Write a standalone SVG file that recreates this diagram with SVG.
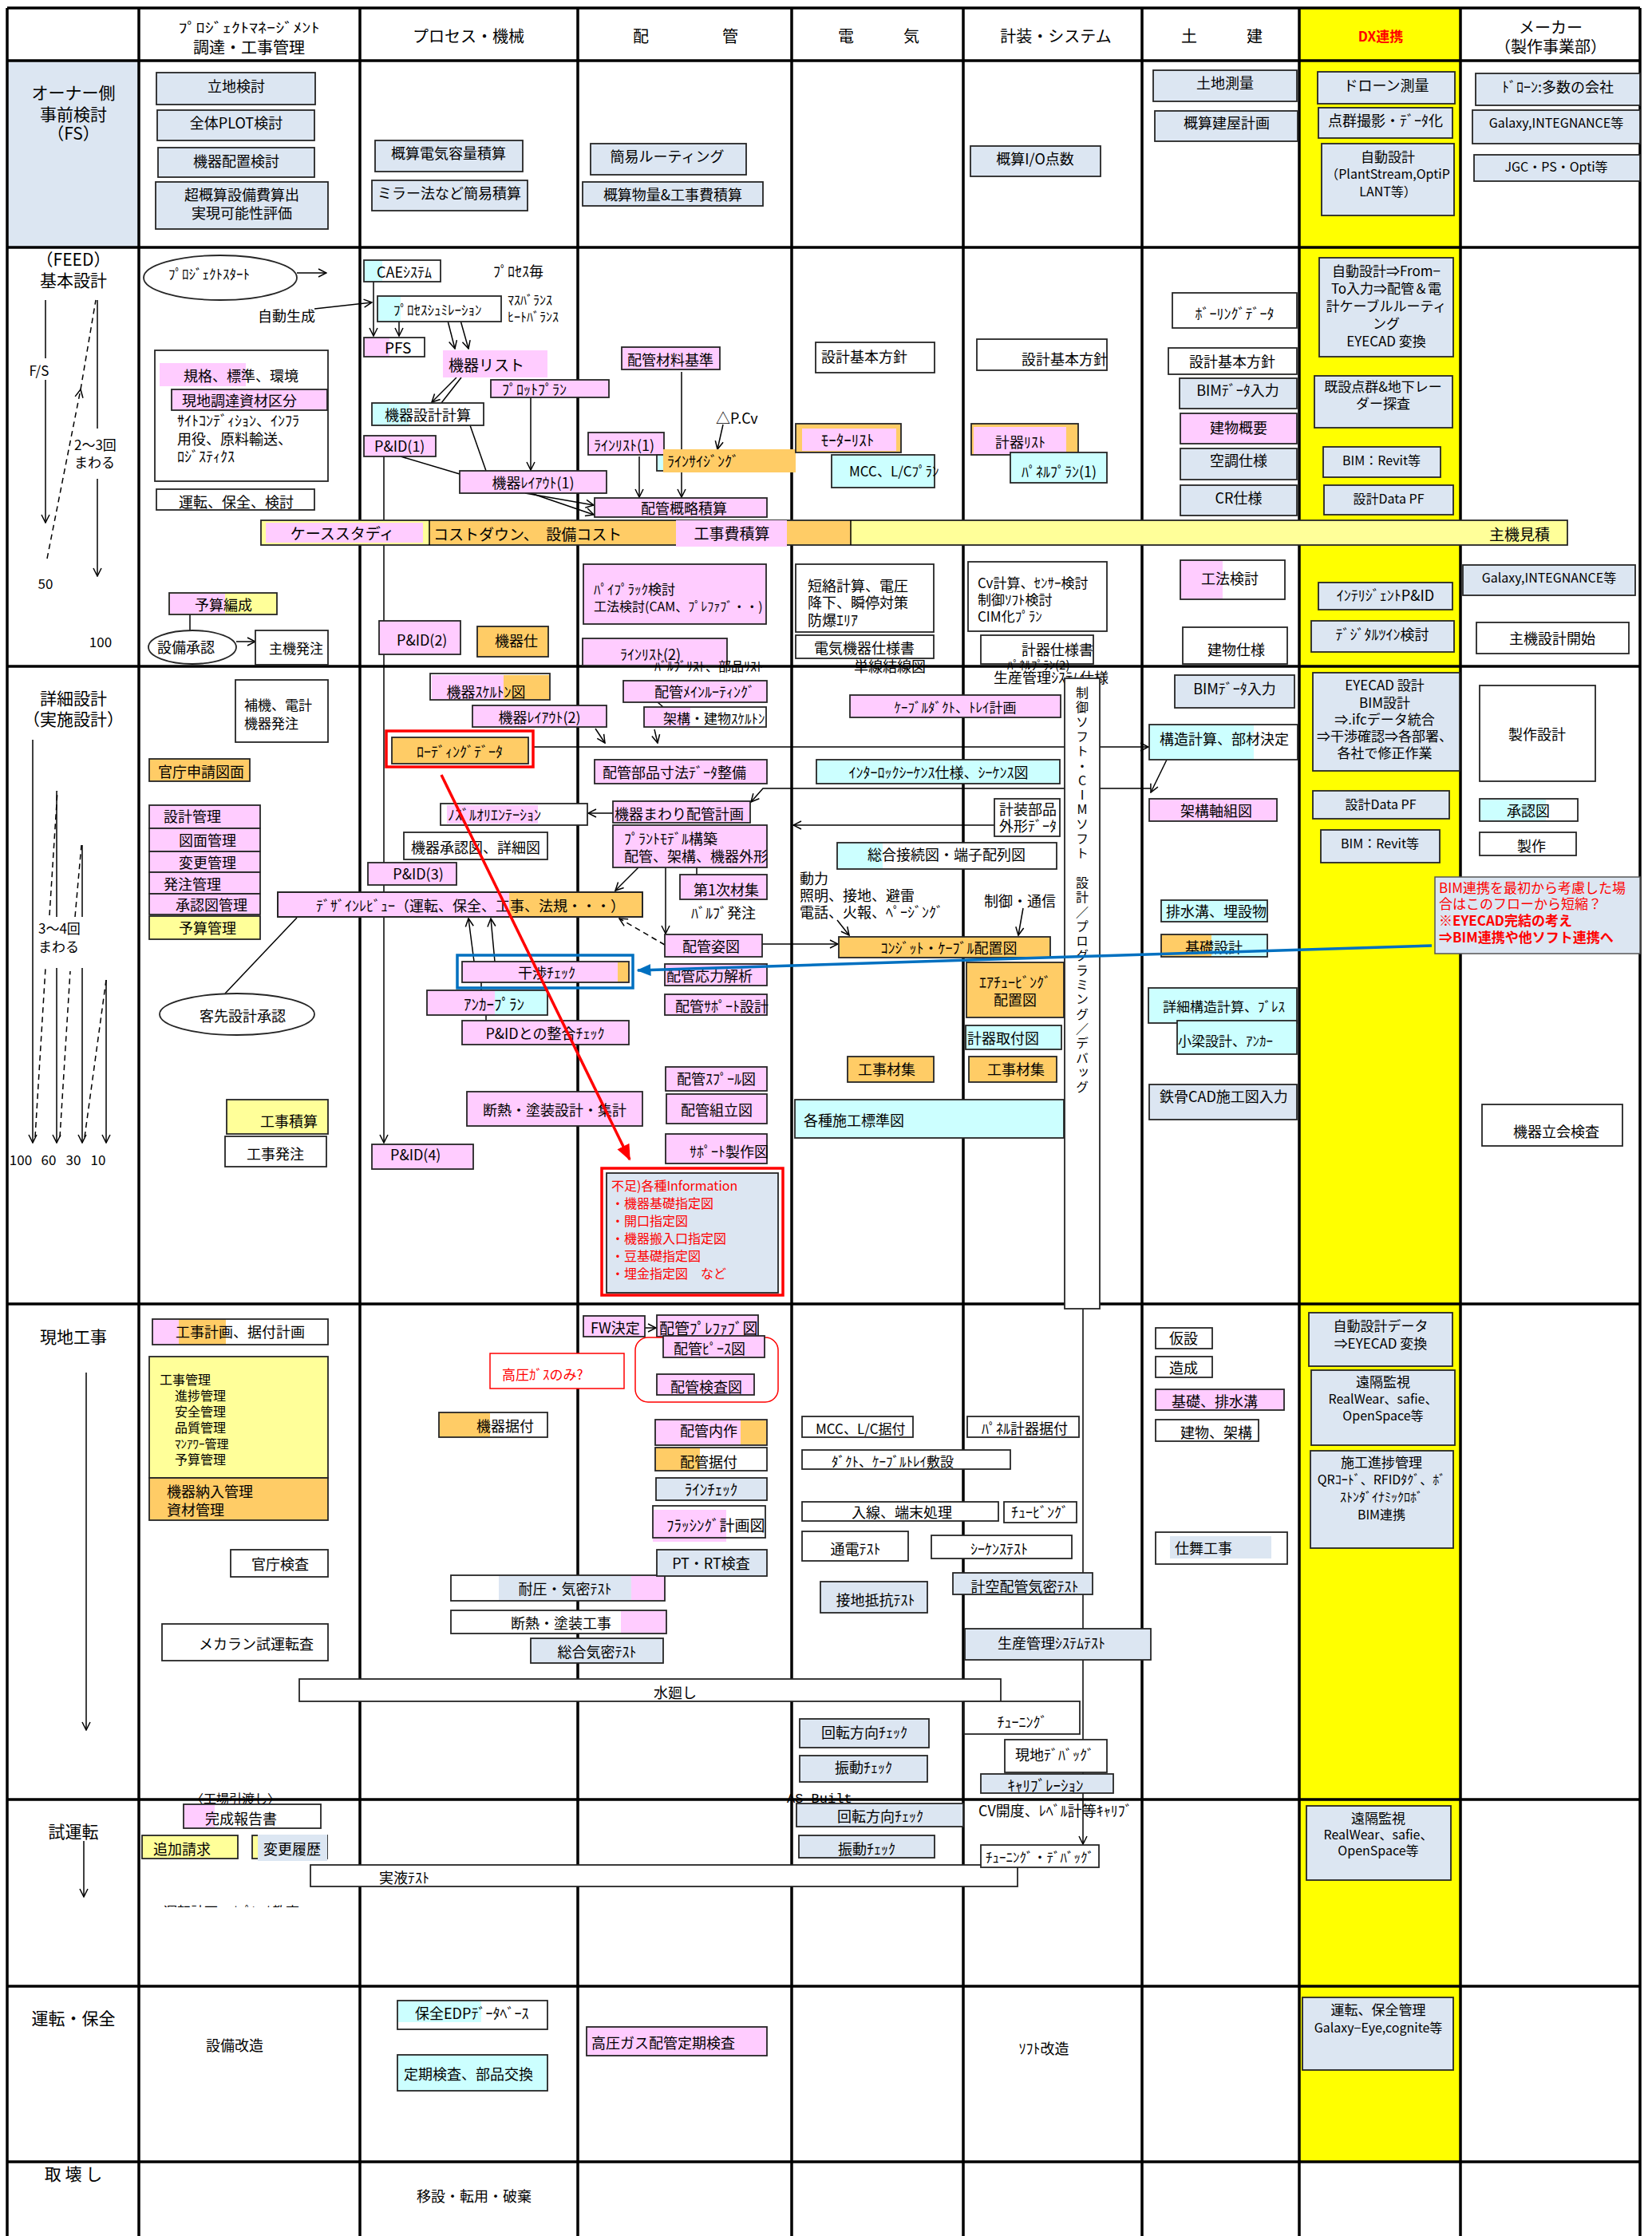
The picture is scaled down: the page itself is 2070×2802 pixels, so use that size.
<svg xmlns="http://www.w3.org/2000/svg" width="2070" height="2802" viewBox="0 0 2070 2802">
<defs>
<style>
text{font-family:"Noto Sans CJK JP","Noto Sans",sans-serif;font-size:17px;fill:#000;dominant-baseline:central}
.c{text-anchor:middle}
.b{stroke:#262626;stroke-width:1.8}
.pk{fill:#ffccff}.or{fill:#ffcc66}.lb{fill:#dce6f2}.cy{fill:#ccffff}.ly{fill:#ffff99}.wh{fill:#fff}.nf{fill:none}
.g{stroke:#000;stroke-width:3.5;fill:none}
.l{stroke:#000;stroke-width:1.5;fill:none}
.d{stroke-dasharray:7 5}
.h{font-size:20px}
.lab{font-size:21px}
.r{fill:#ff0000}
.s15{font-size:15px}.s16{font-size:16px}.s18{font-size:18px}.s19{font-size:19px}
</style>
<marker id="a" viewBox="0 0 12 12" refX="11" refY="6" markerWidth="12" markerHeight="12" markerUnits="userSpaceOnUse" orient="auto"><path d="M1,1 L11,6 L1,11" fill="none" stroke="#000" stroke-width="1.5"/></marker>
<marker id="ar" viewBox="0 0 12 12" refX="11" refY="6" markerWidth="20" markerHeight="20" markerUnits="userSpaceOnUse" orient="auto"><path d="M0,1 L12,6 L0,11 z" fill="#ff0000"/></marker>
<marker id="ab" viewBox="0 0 12 12" refX="11" refY="6" markerWidth="18" markerHeight="18" markerUnits="userSpaceOnUse" orient="auto"><path d="M0,1 L12,6 L0,11 z" fill="#0070c0"/></marker>
<clipPath id="clipT"><rect x="190" y="2378" width="220" height="12"/></clipPath>
</defs>

<g id="grid">
<rect x="0" y="0" width="2070" height="2802" fill="#fff"/>
<rect x="9" y="76" width="165" height="234" fill="#dce6f2"/>
<rect x="1628" y="10" width="202" height="2699" fill="#ffff00"/>
<path class="g" d="M9,10H2055M9,76H2055M9,310H2055M9,835H2055M9,1634H2055M9,2255H2055M9,2489H2055M9,2709H2055"/>
<path class="g" d="M9,10V2802M174,10V2802M451,10V2802M724,10V2802M992,10V2802M1207,10V2802M1431,10V2802M1628,10V2802M1830,10V2802M2055,10V2802"/>
</g>

<g id="headers">
<text x="312" y="33" class="c" font-size="20" textLength="177" lengthAdjust="spacingAndGlyphs">ﾌﾟﾛｼﾞｪｸﾄﾏﾈｰｼﾞﾒﾝﾄ</text>
<text x="312" y="58" class="c h">調達・工事管理</text>
<text x="587" y="44" class="c h">プロセス・機械</text>
<text x="803" y="44" class="c h">配</text><text x="915" y="44" class="c h">管</text>
<text x="1060" y="44" class="c h">電</text><text x="1142" y="44" class="c h">気</text>
<text x="1323" y="44" class="c h">計装・システム</text>
<text x="1490" y="44" class="c h">土</text><text x="1572" y="44" class="c h">建</text>
<text x="1730" y="44" class="c" font-size="24" font-weight="bold" style="fill:#ff0000">DX連携</text>
<text x="1943" y="33" class="c h">メーカー</text>
<text x="1943" y="57" class="c h">（製作事業部）</text>
<text x="92" y="115" class="c lab">オーナー側</text>
<text x="92" y="142" class="c lab">事前検討</text>
<text x="92" y="166" class="c lab">（FS）</text>
<text x="92" y="324" class="c lab">（FEED）</text>
<text x="92" y="350" class="c lab">基本設計</text>
<text x="92" y="874" class="c lab">詳細設計</text>
<text x="92" y="900" class="c lab">（実施設計）</text>
<text x="92" y="1674" class="c lab">現地工事</text>
<text x="92" y="2294" class="c lab">試運転</text>
<text x="92" y="2528" class="c lab">運転・保全</text>
<text x="92" y="2723" class="c lab">取 壊 し</text>
<text x="49" y="463" class="c">F/S</text>
<text x="93" y="556">2～3回</text>
<text x="93" y="578">まわる</text>
<text x="57" y="730" class="c">50</text>
<text x="126" y="803" class="c">100</text>
<text x="48" y="1162">3～4回</text>
<text x="48" y="1185">まわる</text>
<text x="26" y="1452" class="c">100</text>
<text x="61" y="1452" class="c">60</text>
<text x="92" y="1452" class="c">30</text>
<text x="123" y="1452" class="c">10</text>
</g>

<g id="connectors">
<path class="l" d="M57,376V449M57,476V655" marker-end="url(#a)"/>
<path class="l d" d="M59,700L101,488" marker-end="url(#a)"/>
<path class="l d" d="M101,488L120,376"/>
<path class="l" d="M122,376V537"/>
<path class="l" d="M122,600V722" marker-end="url(#a)"/>
<path class="l" d="M372,342H409" marker-end="url(#a)"/>
<path class="l" d="M394,387L466,379" marker-end="url(#a)"/>
<path class="l" d="M468,353V421" marker-end="url(#a)"/>
<path class="l" d="M500,403V421" marker-end="url(#a)"/>
<path class="l" d="M560,398L570,437" marker-end="url(#a)"/>
<path class="l" d="M576,398L587,437" marker-end="url(#a)"/>
<path class="l" d="M572,473L541,504" marker-end="url(#a)"/>
<path class="l" d="M578,473L553,505"/>
<path class="l" d="M665,498V589" marker-end="url(#a)"/>
<path class="l" d="M589,533L609,590"/>
<path class="l" d="M502,572L576,594"/>
<path class="l" d="M658,618L744,633" marker-end="url(#a)"/>
<path class="l" d="M665,618L744,645" marker-end="url(#a)"/>
<path class="l" d="M481,572V1432" marker-end="url(#a)"/>
<path class="l" d="M854,466V623" marker-end="url(#a)"/>
<path class="l" d="M801,572V623" marker-end="url(#a)"/>
<path class="l" d="M906,532L899,563" marker-end="url(#a)"/>
<path class="l" d="M238,770V790"/>
<path class="l" d="M296,804H320" marker-end="url(#a)"/>
<path class="l" d="M746,913L758,931" marker-end="url(#a)"/>
<path class="l" d="M824,880L831,886"/>
<path class="l" d="M820,914L824,931" marker-end="url(#a)"/>
<path class="l" d="M668,936H1439" marker-end="url(#a)"/>
<path class="l" d="M1462,952L1442,993" marker-end="url(#a)"/>
<path class="l" d="M1442,988H956L941,1005" marker-end="url(#a)"/>
<path class="l" d="M768,1019H737" marker-end="url(#a)"/>
<path class="l" d="M1246,1034H994" marker-end="url(#a)"/>
<path class="l" d="M800,1087L771,1116" marker-end="url(#a)"/>
<path class="l" d="M834,1087V1170" marker-end="url(#a)"/>
<path class="l" d="M873,1087V1096"/>
<path class="l d" d="M833,1184L776,1151" marker-end="url(#a)"/>
<path class="l" d="M1049,1153L1064,1172" marker-end="url(#a)"/>
<path class="l" d="M1282,1138L1276,1172" marker-end="url(#a)"/>
<path class="l" d="M955,1183H1050" marker-end="url(#a)"/>
<path class="l" d="M594,1205L587,1151" marker-end="url(#a)"/>
<path class="l" d="M620,1205L615,1151" marker-end="url(#a)"/>
<path class="l" d="M603,1231V1241M609,1272V1279"/>
<path class="l" d="M372,1150L282,1245"/>
<path class="l" d="M41,927V1432" marker-end="url(#a)"/>
<path class="l d" d="M44,1425L57,1213M62,1147L72,991M75,1425L88,1217M94,1149L102,1059M106,1425L133,1228"/>
<path class="l" d="M71,991V1149M103,1059V1149"/>
<path class="l" d="M71,1213V1432" marker-end="url(#a)"/>
<path class="l" d="M103,1213V1432" marker-end="url(#a)"/>
<path class="l" d="M133,1228V1432" marker-end="url(#a)"/>
<path class="l" d="M808,1664H822" marker-end="url(#a)"/>
<path class="l" d="M108,1720V2168" marker-end="url(#a)"/>
<path class="l" d="M1357,1640V2311" marker-end="url(#a)"/>
<path class="l" d="M105,2307V2377" marker-end="url(#a)"/>
</g>

<g id="fs-nodes">
<g id="fs1"><rect x="196" y="91" width="199" height="40" class="lb b"/><text x="296" y="107" class="c s18">立地検討</text></g>
<g id="fs2"><rect x="197" y="138" width="197" height="38" class="lb b"/><text x="296" y="153" class="c s18">全体PLOT検討</text></g>
<g id="fs3"><rect x="198" y="185" width="196" height="37" class="lb b"/><text x="296" y="201" class="c s18">機器配置検討</text></g>
<g id="fs4"><rect x="195" y="228" width="216" height="59" class="lb b"/><text x="303" y="243" class="c s18">超概算設備費算出</text><text x="303" y="266" class="c s18">実現可能性評価</text></g>
<g id="fs5"><rect x="470" y="176" width="185" height="39" class="lb b"/><text x="562" y="191" class="c s18">概算電気容量積算</text></g>
<g id="fs6"><rect x="466" y="226" width="195" height="38" class="lb b"/><text x="563" y="241" class="c s18">ミラー法など簡易積算</text></g>
<g id="fs7"><rect x="740" y="180" width="195" height="39" class="lb b"/><text x="836" y="195" class="c s18">簡易ルーティング</text></g>
<g id="fs8"><rect x="730" y="228" width="226" height="30" class="lb b"/><text x="843" y="243" class="c s18">概算物量&amp;工事費積算</text></g>
<g id="fs9"><rect x="1216" y="183" width="163" height="38" class="lb b"/><text x="1297" y="198" class="c s18">概算I/O点数</text></g>
<g id="fs10"><rect x="1445" y="88" width="180" height="39" class="lb b"/><text x="1535" y="103" class="c s18">土地測量</text></g>
<g id="fs11"><rect x="1447" y="139" width="179" height="38" class="lb b"/><text x="1537" y="153" class="c s18">概算建屋計画</text></g>
<g id="fs12"><rect x="1651" y="90" width="172" height="40" class="lb b"/><text x="1737" y="106" class="c s18">ドローン測量</text></g>
<g id="fs13"><rect x="1652" y="135" width="168" height="38" class="lb b"/><text x="1736" y="150" class="c s18">点群撮影・ﾃﾞｰﾀ化</text></g>
<g id="fs14"><rect x="1656" y="180" width="166" height="90" class="lb b"/><text x="1739" y="195" class="c">自動設計</text><text x="1739" y="217" class="c s16">（PlantStream,OptiP</text><text x="1739" y="239" class="c s16">LANT等）</text></g>
<g id="fs15"><rect x="1849" y="92" width="206" height="40" class="lb b"/><text x="1952" y="108" class="c s18">ﾄﾞﾛｰﾝ:多数の会社</text></g>
<g id="fs16"><rect x="1845" y="138" width="210" height="42" class="lb b"/><text x="1950" y="153" class="c s16">Galaxy,INTEGNANCE等</text></g>
<g id="fs17"><rect x="1847" y="194" width="208" height="33" class="lb b"/><text x="1950" y="208" class="c s16">JGC・PS・Opti等</text></g>
</g>

<g id="feed-nodes">
<g id="f-start"><ellipse cx="276" cy="348" rx="96" ry="28" class="wh b"/><text x="262" y="342" class="c">ﾌﾟﾛｼﾞｪｸﾄｽﾀｰﾄ</text></g>
<g id="f-auto"><text x="323" y="395" class="s18">自動生成</text></g>
<g id="f-kikaku"><rect x="194" y="439" width="217" height="164" class="wh b"/><rect x="200" y="455" width="108" height="29" class="pk"/><text x="230" y="470" class="s18">規格、標準、環境</text><rect x="215" y="488" width="195" height="26" class="pk b"/><text x="228" y="501" class="s18">現地調達資材区分</text><text x="222" y="526" class="s18">ｻｲﾄｺﾝﾃﾞｨｼｮﾝ、ｲﾝﾌﾗ</text><text x="222" y="549" class="s18">用役、原料輸送、</text><text x="222" y="571" class="s18">ﾛｼﾞｽﾃｨｸｽ</text></g>
<g id="f-unten"><rect x="196" y="613" width="198" height="26" class="wh b"/><text x="296" y="628" class="c s18">運転、保全、検討</text></g>
<g id="f-yosan"><rect x="212" y="743" width="135" height="27" class="ly b"/><rect x="213" y="744" width="69" height="25" class="pk"/><text x="280" y="757" class="c s18">予算編成</text></g>
<g id="f-shonin"><ellipse cx="241" cy="811" rx="55" ry="21" class="wh b"/><text x="197" y="810" class="s18">設備承認</text></g>
<g id="f-hatchu"><rect x="320" y="790" width="91" height="43" class="wh b"/><text x="337" y="811">主機発注</text></g>
<g id="f-cae"><rect x="456" y="326" width="96" height="27" class="wh"/><rect x="456" y="326" width="23" height="27" class="cy"/><rect x="456" y="326" width="96" height="27" class="nf b"/><text x="472" y="340" class="s18">CAEｼｽﾃﾑ</text></g>
<g id="f-pmai"><text x="618" y="339" class="s18">ﾌﾟﾛｾｽ毎</text></g>
<g id="f-sim"><rect x="473" y="371" width="155" height="32" class="wh"/><rect x="473" y="371" width="29" height="32" class="cy"/><rect x="473" y="371" width="155" height="32" class="nf b"/><text x="493" y="387">ﾌﾟﾛｾｽｼｭﾐﾚｰｼｮﾝ</text></g>
<g id="f-mass"><text x="636" y="375" class="s16">ﾏｽﾊﾞﾗﾝｽ</text><text x="636" y="396" class="s16">ﾋｰﾄﾊﾞﾗﾝｽ</text></g>
<g id="f-pfs"><rect x="456" y="423" width="76" height="24" class="wh"/><rect x="456" y="423" width="32" height="24" class="pk"/><rect x="456" y="423" width="76" height="24" class="nf b"/><text x="482" y="434" class="s19">PFS</text></g>
<g id="f-list"><rect x="555" y="439" width="131" height="34" class="pk"/><text x="562" y="456" class="s19">機器リスト</text></g>
<g id="f-plot"><rect x="615" y="476" width="148" height="22" class="pk b"/><text x="629" y="487" class="s18">ﾌﾟﾛｯﾄﾌﾟﾗﾝ</text></g>
<g id="f-sekkei"><rect x="466" y="505" width="140" height="28" class="wh"/><rect x="466" y="505" width="47" height="28" class="cy"/><rect x="466" y="505" width="140" height="28" class="nf b"/><text x="482" y="519" class="s18">機器設計計算</text></g>
<g id="f-pid1"><rect x="456" y="546" width="90" height="26" class="pk b"/><text x="469" y="558" class="s18">P&amp;ID(1)</text></g>
<g id="f-layout1"><rect x="576" y="590" width="184" height="28" class="pk b"/><text x="668" y="604" class="c s18">機器ﾚｲｱｳﾄ(1)</text></g>
<g id="f-pid2"><rect x="475" y="778" width="102" height="42" class="pk b"/><text x="497" y="801" class="s18">P&amp;ID(2)</text></g>
<g id="f-kikishi"><rect x="598" y="785" width="89" height="38" class="or b"/><text x="620" y="802" class="s18">機器仕</text></g>
<g id="f-zairyo"><rect x="779" y="435" width="123" height="28" class="pk b"/><text x="840" y="450" class="c s18">配管材料基準</text></g>
<g id="f-line1"><rect x="737" y="542" width="95" height="28" class="pk b"/><text x="744" y="557" class="s18">ﾗｲﾝﾘｽﾄ(1)</text></g>
<g id="f-dpcv"><text x="897" y="523" class="s18">△P.Cv</text></g>
<g id="f-sizing"><rect x="823" y="570" width="30" height="20" class="cy b"/><rect x="831" y="563" width="166" height="29" class="or"/><text x="836" y="577" class="s18">ﾗｲﾝｻｲｼﾞﾝｸﾞ</text></g>
<g id="f-gairyaku"><rect x="745" y="624" width="216" height="24" class="pk b"/><text x="857" y="636" class="c s18">配管概略積算</text></g>
<g id="f-rack"><rect x="731" y="707" width="229" height="75" class="pk b"/><text x="744" y="737">ﾊﾟｲﾌﾟﾗｯｸ検討</text><text x="744" y="759" class="s16">工法検討(CAM、ﾌﾟﾚﾌｧﾌﾞ・・)</text></g>
<g id="f-line2"><rect x="730" y="800" width="181" height="34" class="pk b"/><text x="777" y="819" class="s18">ﾗｲﾝﾘｽﾄ(2)</text></g>
<g id="f-e-kihon"><rect x="1022" y="429" width="149" height="38" class="wh b"/><text x="1029" y="446" class="s18">設計基本方針</text></g>
<g id="f-motor"><rect x="997" y="531" width="132" height="36" class="or b"/><rect x="1005" y="537" width="118" height="28" class="pk"/><text x="1062" y="550" class="c s19">ﾓｰﾀｰﾘｽﾄ</text></g>
<g id="f-mcc"><rect x="1042" y="570" width="129" height="41" class="cy b"/><text x="1064" y="589">MCC、L/Cﾌﾟﾗﾝ</text></g>
<g id="f-tanraku"><rect x="997" y="707" width="173" height="85" class="wh b"/><text x="1012" y="733" class="s18">短絡計算、電圧</text><text x="1012" y="754" class="s18">降下、瞬停対策</text><text x="1012" y="776" class="s18">防爆ｴﾘｱ</text></g>
<g id="f-denki"><rect x="997" y="796" width="173" height="29" class="wh b"/><text x="1083" y="811" class="c s18">電気機器仕様書</text></g>
<g id="f-i-kihon"><rect x="1224" y="425" width="163" height="39" class="wh b"/><text x="1280" y="449" class="s18">設計基本方針</text></g>
<g id="f-keiki"><rect x="1217" y="531" width="134" height="39" class="or b"/><rect x="1220" y="535" width="116" height="34" class="pk"/><text x="1247" y="553" class="s18">計器ﾘｽﾄ</text></g>
<g id="f-panel1"><rect x="1266" y="567" width="121" height="38" class="cy b"/><text x="1280" y="590" class="s18">ﾊﾟﾈﾙﾌﾟﾗﾝ(1)</text></g>
<g id="f-cv"><rect x="1213" y="704" width="174" height="87" class="wh b"/><text x="1225" y="729">Cv計算、ｾﾝｻｰ検討</text><text x="1225" y="750">制御ｿﾌﾄ検討</text><text x="1225" y="771">CIM化ﾌﾟﾗﾝ</text></g>
<g id="f-keikishi"><rect x="1229" y="796" width="141" height="36" class="wh b"/><text x="1280" y="813" class="s18">計器仕様書</text></g>
<g id="f-boring"><rect x="1469" y="367" width="156" height="44" class="wh b"/><text x="1547" y="392" class="c s18">ﾎﾞｰﾘﾝｸﾞﾃﾞｰﾀ</text></g>
<g id="f-c-kihon"><rect x="1464" y="436" width="161" height="33" class="wh b"/><text x="1544" y="452" class="c s18">設計基本方針</text></g>
<g id="f-bim"><rect x="1478" y="474" width="147" height="38" class="lb b"/><text x="1551" y="488" class="c s18">BIMﾃﾞｰﾀ入力</text></g>
<g id="f-tatemono"><rect x="1479" y="518" width="146" height="38" class="pk b"/><text x="1552" y="535" class="c s18">建物概要</text></g>
<g id="f-kucho"><rect x="1479" y="562" width="146" height="39" class="lb b"/><text x="1552" y="576" class="c s18">空調仕様</text></g>
<g id="f-cr"><rect x="1479" y="608" width="146" height="38" class="lb b"/><text x="1552" y="623" class="c s18">CR仕様</text></g>
<g id="f-kohou"><rect x="1479" y="702" width="131" height="49" class="wh"/><rect x="1479" y="702" width="53" height="49" class="pk"/><rect x="1479" y="702" width="131" height="49" class="nf b"/><text x="1541" y="724" class="c s18">工法検討</text></g>
<g id="f-tatemonoshi"><rect x="1482" y="786" width="131" height="46" class="wh b"/><text x="1549" y="813" class="c s18">建物仕様</text></g>
<g id="f-dx1"><rect x="1653" y="323" width="168" height="124" class="lb b"/><text x="1737" y="338" class="c">自動設計⇒From−</text><text x="1737" y="360" class="c">To入力⇒配管＆電</text><text x="1737" y="382" class="c">計ケーブルルーティ</text><text x="1737" y="404" class="c">ング</text><text x="1737" y="426" class="c">EYECAD 変換</text></g>
<g id="f-dx2"><rect x="1647" y="471" width="173" height="65" class="lb b"/><text x="1733" y="483" class="c">既設点群&amp;地下レー</text><text x="1733" y="504" class="c">ダー探査</text></g>
<g id="f-dx3"><rect x="1658" y="560" width="147" height="38" class="lb b"/><text x="1731" y="576" class="c s16">BIM：Revit等</text></g>
<g id="f-dx4"><rect x="1659" y="608" width="162" height="37" class="lb b"/><text x="1740" y="624" class="c s16">設計Data PF</text></g>
<g id="f-dx5"><rect x="1652" y="730" width="168" height="34" class="lb b"/><text x="1736" y="745" class="c s18">ｲﾝﾃﾘｼﾞｪﾝﾄP&amp;ID</text></g>
<g id="f-dx6"><rect x="1643" y="778" width="179" height="39" class="lb b"/><text x="1732" y="794" class="c s18">ﾃﾞｼﾞﾀﾙﾂｲﾝ検討</text></g>
<g id="f-mk1"><rect x="1833" y="708" width="216" height="38" class="lb b"/><text x="1941" y="723" class="c s16">Galaxy,INTEGNANCE等</text></g>
<g id="f-mk2"><rect x="1850" y="780" width="191" height="39" class="wh b"/><text x="1945" y="799" class="c s18">主機設計開始</text></g>
<g id="f-case"><rect x="327" y="652" width="1637" height="31" class="ly b"/><rect x="333" y="655" width="197" height="25" class="pk"/><rect x="538" y="653" width="528" height="29" class="or"/><rect x="847" y="652" width="139" height="33" class="pk"/><path d="M538,652V683M1066,652V683" class="l"/><text x="429" y="667" class="c s19">ケーススタディ</text><text x="543" y="668" class="s19">コストダウン、　設備コスト</text><text x="917" y="667" class="c s19">工事費積算</text><text x="1904" y="668" class="c s19">主機見積</text></g>
<g id="f-overlap-texts"><text x="820" y="834" class="s16">ﾊﾞﾙﾌﾞﾘｽﾄ、部品ﾘｽﾄ</text><text x="1070" y="834" class="s18">単線結線図</text><text x="1262" y="832" class="s15">ﾊﾟﾈﾙﾌﾟﾗﾝ(2)</text></g>
</g>

<g id="detail-nodes">
<g id="d-hoki"><rect x="295" y="852" width="116" height="78" class="wh b"/><text x="306" y="882">補機、電計</text><text x="306" y="905">機器発注</text></g>
<g id="d-kancho"><rect x="187" y="951" width="126" height="28" class="or b"/><text x="198" y="966" class="s18">官庁申請図面</text></g>
<g id="d-mg1"><rect x="187" y="1009" width="139" height="29" class="pk b"/><text x="205" y="1022" class="s18">設計管理</text></g>
<g id="d-mg2"><rect x="187" y="1038" width="139" height="29" class="pk b"/><text x="224" y="1052" class="s18">図面管理</text></g>
<g id="d-mg3"><rect x="187" y="1067" width="139" height="26" class="pk b"/><text x="224" y="1080" class="s18">変更管理</text></g>
<g id="d-mg4"><rect x="187" y="1093" width="139" height="27" class="pk b"/><text x="205" y="1107" class="s18">発注管理</text></g>
<g id="d-mg5"><rect x="187" y="1120" width="139" height="26" class="pk b"/><text x="220" y="1133" class="s18">承認図管理</text></g>
<g id="d-mg6"><rect x="187" y="1148" width="139" height="29" class="ly b"/><text x="224" y="1162" class="s18">予算管理</text></g>
<g id="d-kyaku"><ellipse cx="297" cy="1271" rx="97" ry="26" class="wh b"/><text x="304" y="1272" class="c s18">客先設計承認</text></g>
<g id="d-sekisan"><rect x="284" y="1378" width="127" height="43" class="ly b"/><text x="362" y="1404" class="c s18">工事積算</text></g>
<g id="d-hatchu"><rect x="282" y="1424" width="127" height="38" class="wh b"/><text x="345" y="1445" class="c s18">工事発注</text></g>
<g id="d-skel"><rect x="539" y="844" width="150" height="33" class="wh"/><rect x="541" y="846" width="90" height="30" class="pk"/><rect x="631" y="846" width="57" height="30" class="or"/><rect x="539" y="844" width="150" height="33" class="nf b"/><text x="609" y="866" class="c s18">機器ｽｹﾙﾄﾝ図</text></g>
<g id="d-layout2"><rect x="592" y="884" width="168" height="27" class="pk b"/><text x="676" y="898" class="c s18">機器ﾚｲｱｳﾄ(2)</text></g>
<g id="d-loading"><rect x="484" y="916" width="184" height="45" fill="none" stroke="#ff0000" stroke-width="3.5"/><rect x="491" y="924" width="171" height="33" class="or b"/><text x="576" y="941" class="c s18">ﾛｰﾃﾞｨﾝｸﾞﾃﾞｰﾀ</text></g>
<g id="d-nozzle"><rect x="552" y="1007" width="184" height="27" class="wh"/><rect x="560" y="1009" width="114" height="23" class="pk"/><rect x="552" y="1007" width="184" height="27" class="nf b"/><text x="561" y="1020" class="s18">ﾉｽﾞﾙｵﾘｴﾝﾃｰｼｮﾝ</text></g>
<g id="d-shonin"><rect x="506" y="1043" width="180" height="34" class="wh b"/><text x="596" y="1061" class="c s18">機器承認図、詳細図</text></g>
<g id="d-pid3"><rect x="461" y="1081" width="111" height="28" class="pk b"/><text x="524" y="1094" class="c s18">P&amp;ID(3)</text></g>
<g id="d-review"><rect x="348" y="1118" width="457" height="31" class="pk b"/><rect x="638" y="1119" width="166" height="29" class="or"/><rect x="348" y="1118" width="457" height="31" class="nf b"/><text x="396" y="1134" class="s18">ﾃﾞｻﾞｲﾝﾚﾋﾞｭｰ（運転、保全、工事、法規・・・）</text></g>
<g id="d-kansho"><rect x="573" y="1197" width="220" height="41" fill="none" stroke="#0070c0" stroke-width="3.5"/><rect x="579" y="1205" width="209" height="26" class="pk b"/><rect x="774" y="1206" width="13" height="24" class="or"/><text x="685" y="1218" class="c s18">干渉ﾁｪｯｸ</text></g>
<g id="d-anchor"><rect x="535" y="1241" width="151" height="31" class="pk"/><rect x="620" y="1241" width="66" height="31" class="cy"/><rect x="535" y="1241" width="151" height="31" class="nf b"/><text x="581" y="1257" class="s19">ｱﾝｶｰﾌﾟﾗﾝ</text></g>
<g id="d-seigo"><rect x="579" y="1279" width="209" height="30" class="pk b"/><text x="683" y="1294" class="c s18">P&amp;IDとの整合ﾁｪｯｸ</text></g>
<g id="d-dannetsu"><rect x="585" y="1368" width="220" height="43" class="pk b"/><text x="695" y="1390" class="c s18">断熱・塗装設計・集計</text></g>
<g id="d-pid4"><rect x="466" y="1434" width="127" height="31" class="pk b"/><text x="489" y="1446" class="s18">P&amp;ID(4)</text></g>
<g id="d-mainroute"><rect x="781" y="853" width="180" height="27" class="pk b"/><text x="820" y="866" class="s18">配管ﾒｲﾝﾙｰﾃｨﾝｸﾞ</text></g>
<g id="d-kakou"><rect x="807" y="886" width="153" height="25" class="wh"/><rect x="807" y="886" width="58" height="25" class="pk"/><rect x="807" y="886" width="153" height="25" class="nf b"/><text x="831" y="899">架構・建物ｽｹﾙﾄﾝ</text></g>
<g id="d-buhin"><rect x="745" y="952" width="216" height="30" class="pk b"/><text x="755" y="967" class="s18">配管部品寸法ﾃﾞｰﾀ整備</text></g>
<g id="d-mawari"><rect x="768" y="1004" width="172" height="27" class="pk b"/><text x="770" y="1019" class="s18">機器まわり配管計画</text></g>
<g id="d-model"><rect x="768" y="1034" width="193" height="53" class="pk b"/><text x="782" y="1050" class="s18">ﾌﾟﾗﾝﾄﾓﾃﾞﾙ構築</text><text x="782" y="1072" class="s18">配管、架構、機器外形</text></g>
<g id="d-zaishu1"><rect x="852" y="1096" width="109" height="31" class="pk b"/><text x="910" y="1114" class="c s18">第1次材集</text></g>
<g id="d-valve"><text x="866" y="1143" class="s18">ﾊﾞﾙﾌﾞ発注</text></g>
<g id="d-shizu"><rect x="833" y="1171" width="122" height="28" class="pk b"/><text x="891" y="1185" class="c s18">配管姿図</text></g>
<g id="d-ouryoku"><rect x="833" y="1208" width="128" height="27" class="pk b"/><text x="835" y="1222" class="s18">配管応力解析</text></g>
<g id="d-support"><rect x="833" y="1246" width="128" height="26" class="pk b"/><text x="846" y="1260" class="s18">配管ｻﾎﾟｰﾄ設計</text></g>
<g id="d-spool"><rect x="834" y="1337" width="127" height="30" class="pk b"/><text x="848" y="1351" class="s18">配管ｽﾌﾟｰﾙ図</text></g>
<g id="d-kumitate"><rect x="835" y="1371" width="126" height="37" class="pk b"/><text x="898" y="1390" class="c s18">配管組立図</text></g>
<g id="d-sup-seisaku"><rect x="834" y="1421" width="127" height="37" class="pk b"/><text x="864" y="1442" class="s18">ｻﾎﾟｰﾄ製作図</text></g>
<g id="d-info"><rect x="754" y="1464" width="227" height="159" fill="none" stroke="#ff0000" stroke-width="3.5"/><rect x="760" y="1470" width="215" height="150" class="lb b"/><text x="766" y="1485" class="r s16">不足)各種Information</text><text x="766" y="1507" class="r s16">・機器基礎指定図</text><text x="766" y="1529" class="r s16">・開口指定図</text><text x="766" y="1551" class="r s16">・機器搬入口指定図</text><text x="766" y="1573" class="r s16">・豆基礎指定図</text><text x="766" y="1595" class="r s16">・埋金指定図　など</text></g>
<g id="d-interlock"><rect x="1023" y="952" width="305" height="30" class="cy b"/><text x="1176" y="967" class="c s18">ｲﾝﾀｰﾛｯｸｼｰｹﾝｽ仕様、ｼｰｹﾝｽ図</text></g>
<g id="d-cable"><rect x="1065" y="871" width="264" height="28" class="pk b"/><text x="1197" y="885" class="c">ｹｰﾌﾞﾙﾀﾞｸﾄ、ﾄﾚｲ計画</text></g>
<g id="d-gaikei"><rect x="1246" y="1001" width="82" height="47" class="wh b"/><text x="1252" y="1013" class="s18">計装部品</text><text x="1252" y="1034" class="s18">外形ﾃﾞｰﾀ</text></g>
<g id="d-sogo"><rect x="1049" y="1056" width="275" height="33" class="wh"/><rect x="1049" y="1056" width="57" height="33" class="cy"/><rect x="1049" y="1056" width="275" height="33" class="nf b"/><text x="1186" y="1070" class="c s18">総合接続図・端子配列図</text></g>
<g id="d-doryoku"><text x="1002" y="1100" class="s18">動力</text><text x="1002" y="1121" class="s18">照明、接地、避雷</text><text x="1002" y="1142" class="s18">電話、火報、ﾍﾟｰｼﾞﾝｸﾞ</text></g>
<g id="d-seigyo"><text x="1233" y="1128" class="s18">制御・通信</text></g>
<g id="d-conduit"><rect x="1051" y="1174" width="265" height="26" class="or b"/><text x="1189" y="1187" class="c s18">ｺﾝｼﾞｯﾄ・ｹｰﾌﾞﾙ配置図</text></g>
<g id="d-air"><rect x="1211" y="1206" width="122" height="69" class="or b"/><text x="1272" y="1230" class="c s18">ｴｱﾁｭｰﾋﾞﾝｸﾞ</text><text x="1272" y="1252" class="c s18">配置図</text></g>
<g id="d-toritsuke"><rect x="1210" y="1285" width="120" height="30" class="cy b"/><text x="1212" y="1300" class="s18">計器取付図</text></g>
<g id="d-zai-e"><rect x="1062" y="1324" width="108" height="32" class="or b"/><text x="1111" y="1339" class="c s18">工事材集</text></g>
<g id="d-zai-i"><rect x="1214" y="1324" width="110" height="32" class="or b"/><text x="1273" y="1339" class="c s18">工事材集</text></g>
<g id="d-hyojun"><rect x="996" y="1378" width="337" height="48" class="cy b"/><text x="1007" y="1403" class="s18">各種施工標準図</text></g>
<g id="d-seisan-shi"><text x="1245" y="848" class="s18">生産管理ｼｽﾃﾑ仕様</text></g>
<g id="d-soft"><rect x="1334" y="850" width="44" height="790" class="wh b"/><text x="1356" y="860" class="s16" style="writing-mode:vertical-rl;text-orientation:upright;letter-spacing:2.3px;dominant-baseline:auto">制御ソフト・CIMソフト　設計／プログラミング／デバッグ</text></g>
<g id="d-bim"><rect x="1472" y="846" width="150" height="41" class="lb b"/><text x="1547" y="862" class="c s18">BIMﾃﾞｰﾀ入力</text></g>
<g id="d-kozo"><rect x="1440" y="908" width="186" height="44" class="wh"/><rect x="1440" y="908" width="131" height="44" class="cy"/><rect x="1440" y="908" width="186" height="44" class="nf b"/><text x="1453" y="925" class="s18">構造計算、部材決定</text></g>
<g id="d-jikugumi"><rect x="1440" y="1001" width="160" height="28" class="pk b"/><text x="1524" y="1015" class="c s18">架構軸組図</text></g>
<g id="d-haisui"><rect x="1455" y="1128" width="133" height="27" class="cy b"/><text x="1461" y="1141" class="s18">排水溝、埋設物</text></g>
<g id="d-kiso"><rect x="1455" y="1171" width="133" height="28" class="cy"/><rect x="1455" y="1171" width="63" height="28" class="or"/><rect x="1455" y="1171" width="133" height="28" class="nf b"/><text x="1521" y="1186" class="c s18">基礎設計</text></g>
<g id="d-shosai"><rect x="1439" y="1238" width="186" height="44" class="cy b"/><text x="1457" y="1260">詳細構造計算、ﾌﾞﾚｽ</text></g>
<g id="d-kobari"><rect x="1475" y="1279" width="150" height="42" class="cy b"/><text x="1476" y="1303">小梁設計、ｱﾝｶｰ</text></g>
<g id="d-tekkotsu"><rect x="1440" y="1359" width="185" height="44" class="lb b"/><text x="1453" y="1373" class="s18">鉄骨CAD施工図入力</text></g>
<g id="d-dx1"><rect x="1645" y="843" width="184" height="123" class="lb b"/><text x="1735" y="857" class="c">EYECAD 設計</text><text x="1735" y="879" class="c">BIM設計</text><text x="1735" y="900" class="c">⇒.ifcデータ統合</text><text x="1735" y="921" class="c">⇒干渉確認⇒各部署、</text><text x="1735" y="942" class="c">各社で修正作業</text></g>
<g id="d-dx2"><rect x="1645" y="991" width="171" height="35" class="lb b"/><text x="1730" y="1007" class="c s16">設計Data PF</text></g>
<g id="d-dx3"><rect x="1655" y="1040" width="149" height="41" class="lb b"/><text x="1729" y="1056" class="c s16">BIM：Revit等</text></g>
<g id="d-mk1"><rect x="1854" y="859" width="145" height="120" class="wh b"/><text x="1926" y="919" class="c s18">製作設計</text></g>
<g id="d-mk2"><rect x="1854" y="1001" width="123" height="28" class="wh"/><rect x="1854" y="1001" width="83" height="28" class="cy"/><rect x="1854" y="1001" width="123" height="28" class="nf b"/><text x="1915" y="1015" class="c s18">承認図</text></g>
<g id="d-mk3"><rect x="1854" y="1043" width="121" height="29" class="wh b"/><text x="1919" y="1059" class="c s18">製作</text></g>
<g id="d-mk4"><rect x="1857" y="1384" width="176" height="52" class="wh b"/><text x="1950" y="1417" class="c s18">機器立会検査</text></g>
<g id="d-note"><rect x="1798" y="1099" width="257" height="96" class="lb" stroke="#555" stroke-width="1.5"/><text x="1803" y="1111" class="r">BIM連携を最初から考慮した場</text><text x="1803" y="1131" class="r">合はこのフローから短縮？</text><text x="1803" y="1152" class="r" font-weight="bold">※EYECAD完結の考え</text><text x="1803" y="1173" class="r" font-weight="bold">⇒BIM連携や他ソフト連携へ</text></g>
</g>

<g id="site-nodes">
<g id="s-keikaku"><rect x="191" y="1653" width="220" height="32" class="wh"/><rect x="191" y="1653" width="33" height="32" class="pk"/><rect x="224" y="1653" width="59" height="32" class="or"/><rect x="191" y="1653" width="220" height="32" class="nf b"/><text x="220" y="1668" class="s18">工事計画、据付計画</text></g>
<g id="s-kanri"><rect x="187" y="1700" width="224" height="152" class="ly b"/><text x="200" y="1728" class="s16">工事管理</text><text x="219" y="1748" class="s16">進捗管理</text><text x="219" y="1768" class="s16">安全管理</text><text x="219" y="1788" class="s16">品質管理</text><text x="219" y="1808" class="s15">ﾏﾝｱﾜｰ管理</text><text x="219" y="1828" class="s16">予算管理</text></g>
<g id="s-nonyu"><rect x="187" y="1852" width="224" height="53" class="or b"/><text x="209" y="1868" class="s18">機器納入管理</text><text x="209" y="1891" class="s18">資材管理</text></g>
<g id="s-kancho"><rect x="289" y="1942" width="122" height="34" class="wh b"/><text x="351" y="1959" class="c s18">官庁検査</text></g>
<g id="s-mecha"><rect x="203" y="2035" width="208" height="46" class="wh b"/><text x="249" y="2059" class="s18">メカラン試運転査</text></g>
<g id="s-koatsu"><rect x="614" y="1696" width="168" height="44" fill="#fff" stroke="#ff0000" stroke-width="1.5"/><text x="629" y="1721" class="r" font-size="21">高圧ｶﾞｽのみ?</text></g>
<g id="s-suetsuke"><rect x="550" y="1770" width="136" height="31" class="wh"/><rect x="550" y="1770" width="64" height="31" class="or"/><rect x="550" y="1770" width="136" height="31" class="nf b"/><text x="597" y="1786" class="s18">機器据付</text></g>
<g id="s-taiatsu"><rect x="565" y="1974" width="268" height="32" class="wh"/><rect x="625" y="1975" width="166" height="30" class="lb"/><rect x="791" y="1975" width="42" height="30" class="pk"/><rect x="565" y="1974" width="268" height="32" class="nf b"/><text x="708" y="1990" class="c s18">耐圧・気密ﾃｽﾄ</text></g>
<g id="s-dannetsu"><rect x="565" y="2018" width="270" height="29" class="wh"/><rect x="778" y="2019" width="57" height="28" class="pk"/><rect x="565" y="2018" width="270" height="29" class="nf b"/><text x="703" y="2033" class="c s18">断熱・塗装工事</text></g>
<g id="s-sogokimitsu"><rect x="665" y="2053" width="166" height="31" class="lb b"/><text x="748" y="2069" class="c s18">総合気密ﾃｽﾄ</text></g>
<g id="s-fw"><rect x="731" y="1649" width="77" height="26" class="pk b"/><text x="740" y="1663" class="s18">FW決定</text></g>
<g id="s-prefab"><rect x="823" y="1648" width="127" height="27" class="pk b"/><text x="826" y="1663" class="s19">配管ﾌﾟﾚﾌｧﾌﾞ図</text></g>
<g id="s-redgroup"><rect x="796" y="1676" width="179" height="81" rx="16" fill="none" stroke="#ff0000" stroke-width="1.5"/></g>
<g id="s-piece"><rect x="831" y="1674" width="127" height="27" class="pk b"/><text x="844" y="1689" class="s18">配管ﾋﾟｰｽ図</text></g>
<g id="s-kensa"><rect x="823" y="1722" width="122" height="26" class="pk b"/><text x="885" y="1737" class="c s18">配管検査図</text></g>
<g id="s-naisaku"><rect x="821" y="1779" width="140" height="32" class="pk b"/><rect x="928" y="1780" width="32" height="30" class="or"/><text x="888" y="1792" class="c s18">配管内作</text></g>
<g id="s-haikan-suetsuke"><rect x="821" y="1814" width="140" height="29" class="wh"/><rect x="821" y="1814" width="56" height="29" class="or"/><rect x="821" y="1814" width="140" height="29" class="nf b"/><text x="888" y="1831" class="c s18">配管据付</text></g>
<g id="s-linecheck"><rect x="822" y="1852" width="139" height="28" class="lb b"/><text x="891" y="1865" class="c s19">ﾗｲﾝﾁｪｯｸ</text></g>
<g id="s-flush"><rect x="818" y="1887" width="141" height="40" class="wh"/><rect x="818" y="1892" width="92" height="40" class="pk"/><rect x="818" y="1887" width="141" height="40" class="nf b"/><text x="835" y="1910" class="s19">ﾌﾗｯｼﾝｸﾞ計画図</text></g>
<g id="s-ptrt"><rect x="823" y="1942" width="138" height="33" class="lb b"/><text x="891" y="1958" class="c s18">PT・RT検査</text></g>
<g id="s-mcc"><rect x="1005" y="1775" width="139" height="26" class="wh b"/><text x="1022" y="1789">MCC、L/C据付</text></g>
<g id="s-panel"><rect x="1212" y="1775" width="140" height="26" class="wh b"/><text x="1284" y="1789" class="c s18">ﾊﾟﾈﾙ計器据付</text></g>
<g id="s-duct"><rect x="1005" y="1817" width="261" height="24" class="wh b"/><text x="1042" y="1830">ﾀﾞｸﾄ、ｹｰﾌﾞﾙﾄﾚｲ敷設</text></g>
<g id="s-nyusen"><rect x="1005" y="1882" width="246" height="24" class="wh b"/><text x="1130" y="1894" class="c s18">入線、端末処理</text></g>
<g id="s-tubing"><rect x="1258" y="1882" width="91" height="26" class="wh b"/><text x="1303" y="1894" class="c s18">ﾁｭｰﾋﾞﾝｸﾞ</text></g>
<g id="s-tsuden"><rect x="1005" y="1919" width="133" height="37" class="wh b"/><text x="1072" y="1940" class="c s18">通電ﾃｽﾄ</text></g>
<g id="s-sequence"><rect x="1167" y="1924" width="176" height="29" class="wh b"/><text x="1252" y="1940" class="c s18">ｼｰｹﾝｽﾃｽﾄ</text></g>
<g id="s-keiku"><rect x="1194" y="1971" width="175" height="27" class="lb b"/><text x="1284" y="1987" class="c s18">計空配管気密ﾃｽﾄ</text></g>
<g id="s-setchi"><rect x="1028" y="1982" width="134" height="39" class="lb b"/><text x="1097" y="2004" class="c s18">接地抵抗ﾃｽﾄ</text></g>
<g id="s-seisan"><rect x="1209" y="2041" width="233" height="39" class="lb b"/><text x="1250" y="2058" class="s18">生産管理ｼｽﾃﾑﾃｽﾄ</text></g>
<g id="s-mizu"><rect x="375" y="2104" width="879" height="28" class="wh b"/><text x="846" y="2120" class="c s18">水廻し</text></g>
<g id="s-kaiten"><rect x="1002" y="2154" width="162" height="36" class="lb b"/><text x="1083" y="2170" class="c s18">回転方向ﾁｪｯｸ</text></g>
<g id="s-shindo"><rect x="1002" y="2200" width="160" height="33" class="lb b"/><text x="1082" y="2214" class="c s18">振動ﾁｪｯｸ</text></g>
<g id="s-tuning"><rect x="1208" y="2132" width="145" height="41" class="wh b"/><text x="1281" y="2157" class="c s18">ﾁｭｰﾆﾝｸﾞ</text></g>
<g id="s-debug"><rect x="1259" y="2180" width="128" height="41" class="wh b"/><text x="1272" y="2198" class="s18">現地ﾃﾞﾊﾞｯｸﾞ</text></g>
<g id="s-calib"><rect x="1229" y="2223" width="166" height="24" class="lb b"/><text x="1310" y="2236" class="c s19">ｷｬﾘﾌﾞﾚｰｼｮﾝ</text></g>
<g id="s-kasetsu"><rect x="1448" y="1664" width="71" height="26" class="wh b"/><text x="1483" y="1676" class="c s18">仮設</text></g>
<g id="s-zosei"><rect x="1448" y="1700" width="71" height="26" class="wh b"/><text x="1483" y="1713" class="c s18">造成</text></g>
<g id="s-kiso"><rect x="1448" y="1741" width="161" height="26" class="pk b"/><text x="1468" y="1755" class="s18">基礎、排水溝</text></g>
<g id="s-tatemono"><rect x="1448" y="1779" width="129" height="27" class="wh b"/><text x="1479" y="1794" class="s18">建物、架構</text></g>
<g id="s-shimai"><rect x="1448" y="1920" width="165" height="40" class="wh b"/><rect x="1466" y="1925" width="127" height="28" class="lb"/><text x="1472" y="1939" class="s18">仕舞工事</text></g>
<g id="s-dx1"><rect x="1640" y="1645" width="180" height="67" class="lb b"/><text x="1730" y="1660" class="c">自動設計データ</text><text x="1730" y="1682" class="c">⇒EYECAD 変換</text></g>
<g id="s-dx2"><rect x="1643" y="1717" width="180" height="94" class="lb b"/><text x="1733" y="1730" class="c">遠隔監視</text><text x="1733" y="1752" class="c s16">RealWear、safie、</text><text x="1733" y="1773" class="c s16">OpenSpace等</text></g>
<g id="s-dx3"><rect x="1642" y="1818" width="179" height="122" class="lb b"/><text x="1731" y="1831" class="c">施工進捗管理</text><text x="1731" y="1853" class="c s16">QRｺｰﾄﾞ、RFIDﾀｸﾞ、ﾎﾞ</text><text x="1731" y="1875" class="c s16">ｽﾄﾝﾀﾞｲﾅﾐｯｸﾛﾎﾞ</text><text x="1731" y="1897" class="c s16">BIM連携</text></g>
</g>

<g id="trial-nodes">
<g id="t-hikiwatashi"><text x="295" y="2253" class="c s16">〈工場引渡し〉</text></g>
<g id="t-kansei"><rect x="230" y="2261" width="172" height="30" class="wh"/><rect x="230" y="2261" width="39" height="30" class="pk"/><rect x="230" y="2261" width="172" height="30" class="nf b"/><text x="302" y="2278" class="c s18">完成報告書</text></g>
<g id="t-tsuika"><rect x="178" y="2300" width="120" height="29" class="ly b"/><text x="192" y="2316" class="s18">追加請求</text></g>
<g id="t-henko"><rect x="316" y="2300" width="94" height="29" class="ly b"/><rect x="323" y="2299" width="87" height="33" class="lb"/><text x="330" y="2316" class="s18">変更履歴</text></g>
<g id="t-jitsueki"><rect x="389" y="2337" width="886" height="27" class="wh b"/><text x="475" y="2352" class="s18">実液ﾃｽﾄ</text></g>
<g id="t-kyoiku"><text x="205" y="2394" clip-path="url(#clipT)">運転計画、ｵﾍﾟﾚｰﾀ教育</text></g>
<g id="t-asbuilt"><text x="986" y="2254" style="font-family:'Liberation Mono',monospace" font-size="16">AS Built</text></g>
<g id="t-kaiten"><rect x="998" y="2260" width="209" height="29" class="lb b"/><text x="1103" y="2275" class="c s18">回転方向ﾁｪｯｸ</text></g>
<g id="t-shindo"><rect x="1001" y="2300" width="170" height="28" class="lb b"/><text x="1086" y="2316" class="c s18">振動ﾁｪｯｸ</text></g>
<g id="t-cv"><text x="1226" y="2268" class="s18">CV開度、ﾚﾍﾞﾙ計等ｷｬﾘﾌﾞ</text></g>
<g id="t-tuning"><rect x="1229" y="2312" width="148" height="28" class="wh b"/><text x="1303" y="2326" class="c" textLength="136" lengthAdjust="spacingAndGlyphs">ﾁｭｰﾆﾝｸﾞ・ﾃﾞﾊﾞｯｸﾞ</text></g>
<g id="t-dx"><rect x="1637" y="2263" width="181" height="93" class="lb b"/><text x="1727" y="2277" class="c">遠隔監視</text><text x="1727" y="2298" class="c s16">RealWear、safie、</text><text x="1727" y="2318" class="c s16">OpenSpace等</text></g>
</g>

<g id="om-nodes">
<g id="o-kaizo"><text x="294" y="2562" class="c s18">設備改造</text></g>
<g id="o-edp"><rect x="498" y="2507" width="188" height="36" class="wh"/><rect x="499" y="2508" width="104" height="26" class="cy"/><rect x="498" y="2507" width="188" height="36" class="nf b"/><text x="520" y="2522" class="s18">保全EDPﾃﾞｰﾀﾍﾞｰｽ</text></g>
<g id="o-teiki"><rect x="498" y="2575" width="188" height="45" class="cy b"/><text x="506" y="2598" class="s18">定期検査、部品交換</text></g>
<g id="o-koatsu"><rect x="735" y="2540" width="226" height="36" class="pk b"/><text x="741" y="2559" class="s18">高圧ガス配管定期検査</text></g>
<g id="o-soft"><text x="1308" y="2566" class="c s18">ｿﾌﾄ改造</text></g>
<g id="o-dx"><rect x="1632" y="2503" width="189" height="91" class="lb b"/><text x="1727" y="2517" class="c">運転、保全管理</text><text x="1727" y="2540" class="c s16">Galaxy−Eye,cognite等</text></g>
<g id="x-iten"><text x="594" y="2751" class="c s18">移設・転用・破棄</text></g>
</g>

<g id="connectors-overlay">
<path d="M553,971L789,1453" stroke="#ff0000" stroke-width="3.5" fill="none" marker-end="url(#ar)"/>
<path d="M1794,1185L799,1216" stroke="#0070c0" stroke-width="3.5" fill="none" marker-end="url(#ab)"/>
</g>
</svg>
